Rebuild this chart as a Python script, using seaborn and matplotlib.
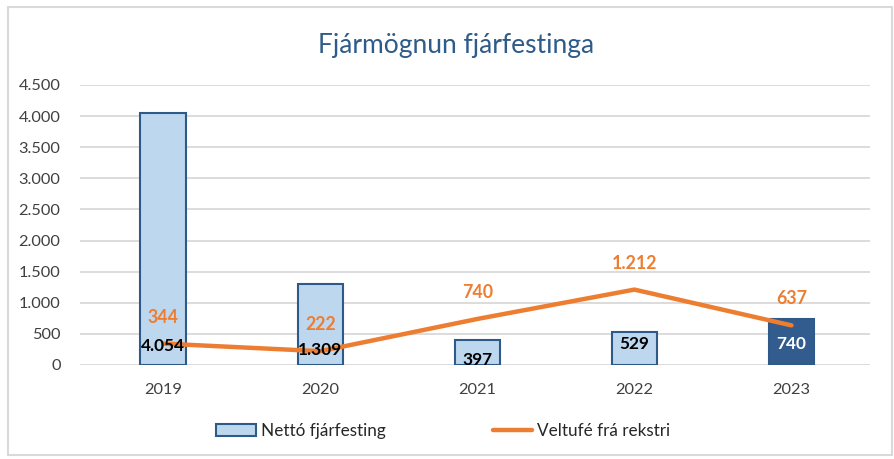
import matplotlib.pyplot as plt
import matplotlib.patches as mpatches
from matplotlib.lines import Line2D
import numpy as np
import pandas as pd
import seaborn as sns

# data
years = ['2019', '2020', '2021', '2022', '2023']
net_invest = [4054, 1309, 397, 529, 740]
cash_ops = [344, 222, 740, 1212, 637]
net_labels = ['4.054', '1.309', '397', '529', '740']
cash_labels = ['344', '222', '740', '1.212', '637']

sns.set_style('white')
plt.rcParams['font.family'] = ['Lato', 'DejaVu Sans']

light = '#BDD7EE'
dark = '#335C8E'
edge = '#2E5A8A'
orange = '#ED7D31'

df = pd.DataFrame({'year': years, 'net': net_invest})

fig = plt.figure(figsize=(8.94, 4.59), dpi=100)
ax = fig.add_axes([80/894, 1-365/459, 790/894, 280/459])

bar_colors = [light, light, light, light, dark]
sns.barplot(data=df, x='year', y='net', hue='year', palette=bar_colors,
            legend=False, width=0.29, edgecolor=edge, linewidth=1.5, ax=ax,
            saturation=1, zorder=2)
sns.lineplot(x=np.arange(len(years)), y=cash_ops, color=orange, linewidth=3.2,
             ax=ax, zorder=3)

ax.set_xlim(-0.53, 4.5)
ax.set_ylim(0, 4500)
ax.set_yticks(np.arange(0, 4501, 500))
ax.set_yticklabels([f'{v:,}'.replace(',', '.') for v in range(0, 4501, 500)])
ax.grid(axis='y', color='#D9D9D9', linewidth=1.3, zorder=0)
ax.set_axisbelow(True)
for s in ax.spines.values():
    s.set_visible(False)
ax.tick_params(axis='both', length=0, labelsize=11.8, colors='#404040')
ax.tick_params(axis='x', pad=13)
ax.tick_params(axis='y', pad=14)
ax.set_xlabel('')
ax.set_ylabel('')

# bar value labels near the base
label_y = [310, 240, 75, 345, 345]
for i, (lab, yy) in enumerate(zip(net_labels, label_y)):
    ax.text(i, yy, lab, ha='center', va='center', fontsize=12.4, fontweight='bold',
            color='white' if i == 4 else 'black', zorder=4)

# line value labels above the points
for i, (v, lab) in enumerate(zip(cash_ops, cash_labels)):
    ax.annotate(lab, (i, v), xytext=(0, 19), textcoords='offset points',
                ha='center', va='center', fontsize=12.8, fontweight='bold',
                color=orange, zorder=4)

fig.text(0.51, 1-45/459, 'Fjármögnun fjárfestinga', ha='center', va='center',
         fontsize=19, color='#2E5B88')

handles = [mpatches.Patch(facecolor=light, edgecolor=edge, linewidth=1.5),
           Line2D([0], [0], color=orange, linewidth=3.2)]
fig.legend(handles, ['Nettó fjárfesting', 'Veltufé frá rekstri'], loc='center',
           bbox_to_anchor=(0.496, 1-431/459), ncol=2, frameon=False, fontsize=12.3,
           columnspacing=6.3, handlelength=2.3, handletextpad=0.3)

# outer chart border
fig.patches.append(mpatches.Rectangle((8/894, 4/459), 884/894, 1-11/459,
                                      transform=fig.transFigure, fill=False,
                                      edgecolor='#D9D9D9', linewidth=1.5))

fig.savefig('out.png', dpi=100)
